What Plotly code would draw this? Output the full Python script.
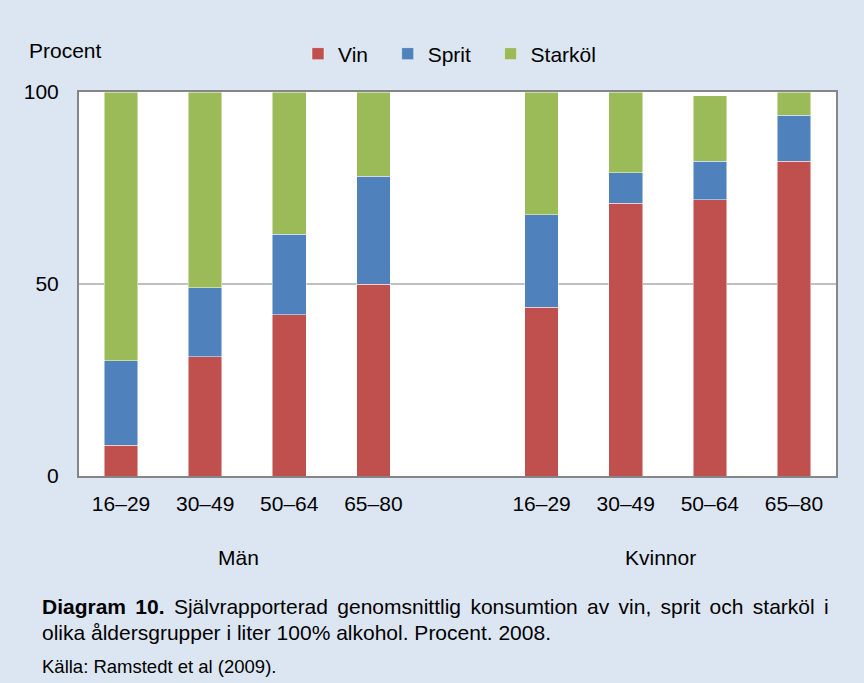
import plotly.graph_objects as go

# data
age_groups = ["16–29", "30–49", "50–64", "65–80"]
groups = ["Män", "Kvinnor"]
vin_man = [8, 31, 42, 50]
sprit_man = [22, 18, 21, 28]
starkol_man = [70, 51, 37, 22]
vin_kv = [44, 71, 72, 82]
sprit_kv = [24, 8, 10, 12]
starkol_kv = [32, 21, 17, 6]
y_ticks = [0, 50, 100]

W, H = 864, 683
L, R, T, B = 79, 28, 92, 207
pw, ph = W - L - R, H - T - B


def px(x):
    return (x - L) / pw


def py(y):
    return 1 - (y - T) / ph


# one empty slot between the two groups
pos_man = list(range(len(age_groups)))
pos_kv = [len(age_groups) + 1 + i for i in range(len(age_groups))]
xpos = pos_man + pos_kv

series = [
    ("Vin", vin_man + vin_kv, "#C0504D"),
    ("Sprit", sprit_man + sprit_kv, "#4F81BD"),
    ("Starköl", starkol_man + starkol_kv, "#9BBB59"),
]

font = "Liberation Sans, Arial, sans-serif"
pad = "\u2002\u2009"  # wider gap between legend entries, like the original
fig = go.Figure()
for i, (name, vals, col) in enumerate(series):
    label = name + (pad if i < len(series) - 1 else "")
    fig.add_trace(go.Bar(x=xpos, y=vals, name=label, width=0.4,
                         marker=dict(color=col, line=dict(color="rgba(255,255,255,0.6)", width=0.8))))

fig.update_layout(
    width=W, height=H, barmode="stack",
    paper_bgcolor="#DCE6F2", plot_bgcolor="white",
    margin=dict(l=L, r=R, t=T, b=B),
    font=dict(family=font, size=21, color="black"),
    legend=dict(orientation="h", x=px(298), y=py(54), xanchor="left", yanchor="middle",
                bgcolor="rgba(0,0,0,0)", font=dict(size=21), itemwidth=30, traceorder="normal"),
    showlegend=True,
)
fig.update_xaxes(range=[-0.5, len(xpos) + 0.5], tickvals=xpos, ticktext=age_groups + age_groups,
                 showgrid=False, zeroline=False, showline=True, mirror=True,
                 linecolor="#868686", linewidth=2, ticks="", ticklabelstandoff=8)
fig.update_yaxes(range=[0, 100], tickvals=y_ticks, showgrid=True, gridcolor="#C0C0C0", gridwidth=1.5,
                 zeroline=False, showline=True, mirror=True, linecolor="#868686", linewidth=2,
                 ticks="", ticklabelstandoff=14)

# line 1 of the caption is justified in the original, widen the word gaps a little
line1 = " ".join(["<b>Diagram", "10.</b>", "Självrapporterad", "genomsnittlig", "konsumtion", "av", "vin,",
                  "sprit", "och", "starköl", "i"]).replace(" ", " \u2006")
ann = [
    dict(text="Procent", x=px(27), y=py(50), xanchor="left", yanchor="middle", font=dict(size=21)),
    dict(text=groups[0], x=px(238), y=py(557), xanchor="center", yanchor="middle"),
    dict(text=groups[1], x=px(660), y=py(557), xanchor="center", yanchor="middle"),
    dict(text=line1, x=px(40), y=py(606), xanchor="left", yanchor="middle"),
    dict(text="olika åldersgrupper i liter 100% alkohol. Procent. 2008.",
         x=px(40), y=py(632), xanchor="left", yanchor="middle"),
    dict(text="Källa: Ramstedt et al (2009).", x=px(40), y=py(666), xanchor="left", yanchor="middle",
         font=dict(size=18.5)),
]
for a in ann:
    a.update(xref="paper", yref="paper", showarrow=False)
fig.update_layout(annotations=ann)

fig.write_html("out.html", config={"displayModeBar": False},
               post_script="document.body.style.margin='0';")
